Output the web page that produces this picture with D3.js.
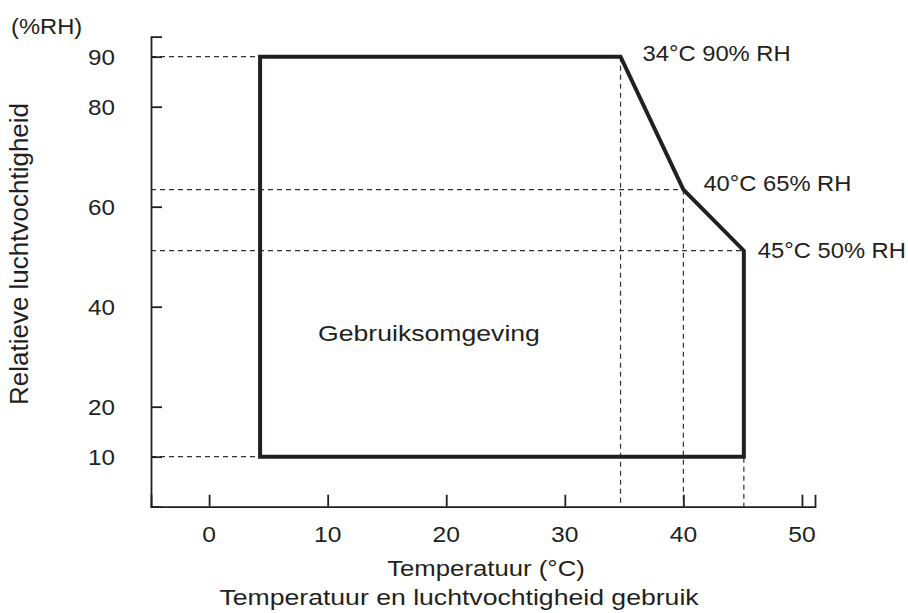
<!DOCTYPE html>
<html>
<head>
<meta charset="utf-8">
<script src="https://cdn.jsdelivr.net/npm/d3@7"></script>
<style>
  body { margin: 0; background: #fff; }
  svg { display: block; }
  text { font-family: "Liberation Sans", Arial, sans-serif; fill: #231f20; }
</style>
</head>
<body>
<svg id="chart" width="908" height="613"></svg>
<script>
// data
const xTicks = [0, 10, 20, 30, 40, 50];
const yTicks = [10, 20, 40, 60, 80, 90];
const envTemp = [4.3, 4.3, 34.7, 40, 45.1, 45.1];
const envRH = [10, 90, 90, 63.4, 51.2, 10];
const cornerIdx = [2, 3, 4];
const cornerLabels = ['34°C 90% RH', '40°C 65% RH', '45°C 50% RH'];
const hGuideIdx = [0, 1, 3, 4];
const vGuideIdx = [2, 3, 4];

const xTitle = 'Temperatuur (°C)';
const yTitle = 'Relatieve luchtvochtigheid';
const yUnit = '(%RH)';
const caption = 'Temperatuur en luchtvochtigheid gebruik';
const areaLabel = 'Gebruiksomgeving';

// layout
const ink = '#231f20';
const fs = 22;   // the reference text is a bit wide, so most labels get stretched
const labelOffsets = [[22, 4], [20, 1], [14, 7]];

let svg = d3.select('#chart');

let x = d3.scaleLinear().domain([-4.9, 51.1]).range([151, 815]);
let y = d3.scaleLinear().domain([0, 94]).range([506.7, 36.7]);

function label(sel, tx, ty, str, anchor, scaleX){
  return sel.append('text')
    .attr('transform', `translate(${tx},${ty}) scale(${scaleX},1)`)
    .attr('text-anchor', anchor || 'start')
    .style('font-size', fs + 'px')
    .text(str);
}

// dashed guide lines
let guides = svg.append('g')
  .attr('class', 'guides')
  .attr('stroke', '#333')
  .attr('stroke-width', 1.2)
  .attr('stroke-dasharray', '5,4')
  .attr('fill', 'none');

guides.selectAll('line.h')
  .data(hGuideIdx)
  .enter()
  .append('line')
  .attr('class', 'h')
  .attr('x1', x.range()[0])
  .attr('x2', i => x(envTemp[i]))
  .attr('y1', i => y(envRH[i]))
  .attr('y2', i => y(envRH[i]));

guides.selectAll('line.v')
  .data(vGuideIdx)
  .enter()
  .append('line')
  .attr('class', 'v')
  .attr('x1', i => x(envTemp[i]))
  .attr('x2', i => x(envTemp[i]))
  .attr('y1', i => y(envRH[i]))
  .attr('y2', y(0));

// operating envelope
let pts = envTemp.map((t, i) => [x(t), y(envRH[i])]);
svg.append('path')
  .attr('d', d3.line()(pts) + 'Z')
  .attr('fill', 'none')
  .attr('stroke', ink)
  .attr('stroke-width', 4)
  .attr('stroke-linejoin', 'miter');

// axes
let xAxis = d3.axisBottom(x)
  .tickValues(xTicks)
  .tickSize(-12);

let gx = svg.append('g')
  .attr('transform', `translate(0,${y(0)})`)
  .call(xAxis);

let yAxis = d3.axisLeft(y)
  .tickValues(yTicks)
  .tickSize(-11);

let gy = svg.append('g')
  .attr('transform', `translate(${x.range()[0]},0)`)
  .call(yAxis);

[gx, gy].forEach(g => {
  g.select('.domain').attr('stroke', ink).attr('stroke-width', 1.8);
  g.selectAll('.tick line').attr('stroke', ink).attr('stroke-width', 1.8);
  g.selectAll('.tick text').remove();
});

// tick labels (drawn by hand so they can be stretched like the reference)
xTicks.forEach(d => label(svg, x(d), 542, d, 'middle', 1.12));
yTicks.forEach(d => label(svg, 115, y(d) + 8, d, 'end', 1.1));

// titles
label(svg, 11, 34, yUnit, 'start', 1.08);
label(svg, 486, 576, xTitle, 'middle', 1.17);
label(svg, 459, 605, caption, 'middle', 1.21);
label(svg, 429, 341, areaLabel, 'middle', 1.21);

svg.append('text')
  .attr('transform', 'translate(28,254) rotate(-90)')
  .attr('text-anchor', 'middle')
  .style('font-size', '26px')
  .text(yTitle);

// corner labels
cornerIdx.forEach((ci, k) => {
  label(svg, x(envTemp[ci]) + labelOffsets[k][0], y(envRH[ci]) + labelOffsets[k][1], cornerLabels[k], 'start', 1.08);
});
</script>
</body>
</html>
